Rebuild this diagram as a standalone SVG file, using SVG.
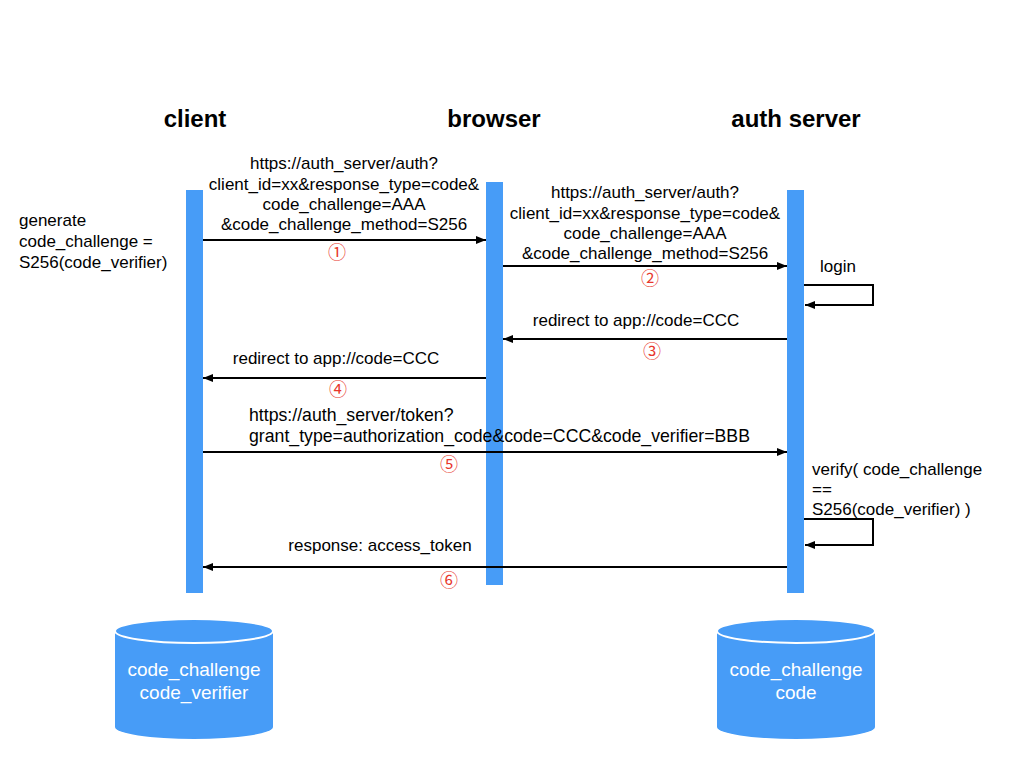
<svg xmlns="http://www.w3.org/2000/svg" width="1024" height="768" viewBox="0 0 1024 768">
<style>
.hdr{font-family:"Liberation Sans",Arial,sans-serif;font-size:24px;font-weight:bold;fill:#000;text-anchor:middle}
.t{font-family:"Liberation Sans",Arial,sans-serif;font-size:17px;fill:#000}
.t2{font-size:17.7px}
.c{text-anchor:middle}
.num{font-family:"Noto Sans CJK JP","DejaVu Sans",sans-serif;font-size:18px;fill:#e8372c;text-anchor:middle}
.bar{fill:#479cf7}
.ln{stroke:#000;stroke-width:2;fill:none}
.db{fill:#479cf7}
.dbtop{fill:#479cf7;stroke:#fff;stroke-width:2}
.dbt{font-family:"Liberation Sans",Arial,sans-serif;font-size:19px;fill:#fff;text-anchor:middle}
</style>
<defs>
<marker id="ah" markerWidth="10" markerHeight="8" refX="10" refY="4" orient="auto" markerUnits="userSpaceOnUse">
<path d="M0,0 L10,4 L0,8 Z" fill="#000"/>
</marker>
</defs>
<rect width="1024" height="768" fill="#fff"/>

<g id="client">
<text class="hdr" x="195" y="127">client</text>
<rect class="bar" x="186" y="190" width="17" height="403"/>
</g>
<g id="browser">
<text class="hdr" x="494" y="127">browser</text>
<rect class="bar" x="486" y="182" width="17" height="403"/>
</g>
<g id="auth-server">
<text class="hdr" x="796" y="127">auth server</text>
<rect class="bar" x="787" y="190" width="17" height="403"/>
</g>

<g id="note-generate">
<text class="t" x="19" y="226">generate</text>
<text class="t" x="19" y="247">code_challenge =</text>
<text class="t" x="19" y="268">S256(code_verifier)</text>
</g>

<g id="client-db">
<path class="db" d="M115,631 L115,727 A79,12 0 0 0 273,727 L273,631 Z"/>
<ellipse class="dbtop" cx="194" cy="631" rx="79" ry="12"/>
<text class="dbt" x="194" y="676">code_challenge</text>
<text class="dbt" x="194" y="699">code_verifier</text>
</g>
<g id="server-db">
<path class="db" d="M717,631 L717,727 A79,12 0 0 0 875,727 L875,631 Z"/>
<ellipse class="dbtop" cx="796" cy="631" rx="79" ry="12"/>
<text class="dbt" x="796" y="676">code_challenge</text>
<text class="dbt" x="796" y="699">code</text>
</g>

<g id="connectors">
<line class="ln" x1="203" y1="240" x2="486" y2="240" marker-end="url(#ah)"/>
<line class="ln" x1="503" y1="266" x2="787" y2="266" marker-end="url(#ah)"/>
<polyline class="ln" points="804,285 873,285 873,305 805,305" marker-end="url(#ah)"/>
<line class="ln" x1="787" y1="339" x2="503" y2="339" marker-end="url(#ah)"/>
<line class="ln" x1="486" y1="378" x2="203" y2="378" marker-end="url(#ah)"/>
<line class="ln" x1="203" y1="452" x2="787" y2="452" marker-end="url(#ah)"/>
<polyline class="ln" points="804,519 873,519 873,545 805,545" marker-end="url(#ah)"/>
<line class="ln" x1="787" y1="567" x2="203" y2="567" marker-end="url(#ah)"/>
</g>

<g id="labels">
<text class="t c" x="344" y="169">https://auth_server/auth?</text>
<text class="t c" x="344" y="190">client_id=xx&amp;response_type=code&amp;</text>
<text class="t c" x="344" y="210">code_challenge=AAA</text>
<text class="t c" x="344" y="230">&amp;code_challenge_method=S256</text>
<text class="num" x="337" y="259">①</text>

<text class="t c" x="645" y="198">https://auth_server/auth?</text>
<text class="t c" x="645" y="219">client_id=xx&amp;response_type=code&amp;</text>
<text class="t c" x="645" y="239">code_challenge=AAA</text>
<text class="t c" x="645" y="259">&amp;code_challenge_method=S256</text>
<text class="num" x="650" y="285">②</text>

<text class="t" x="820" y="272">login</text>

<text class="t c" x="636" y="326">redirect to app://code=CCC</text>
<text class="num" x="652" y="358">③</text>

<text class="t c" x="336" y="364">redirect to app://code=CCC</text>
<text class="num" x="338" y="396">④</text>

<text class="t t2" x="249" y="421">https://auth_server/token?</text>
<text class="t t2" x="249" y="442">grant_type=authorization_code&amp;code=CCC&amp;code_verifier=BBB</text>
<text class="num" x="449" y="471">⑤</text>

<text class="t" x="812" y="475">verify( code_challenge</text>
<text class="t" x="812" y="495">==</text>
<text class="t" x="812" y="515">S256(code_verifier) )</text>

<text class="t c" x="380" y="551">response: access_token</text>
<text class="num" x="449" y="587">⑥</text>
</g>
</svg>
